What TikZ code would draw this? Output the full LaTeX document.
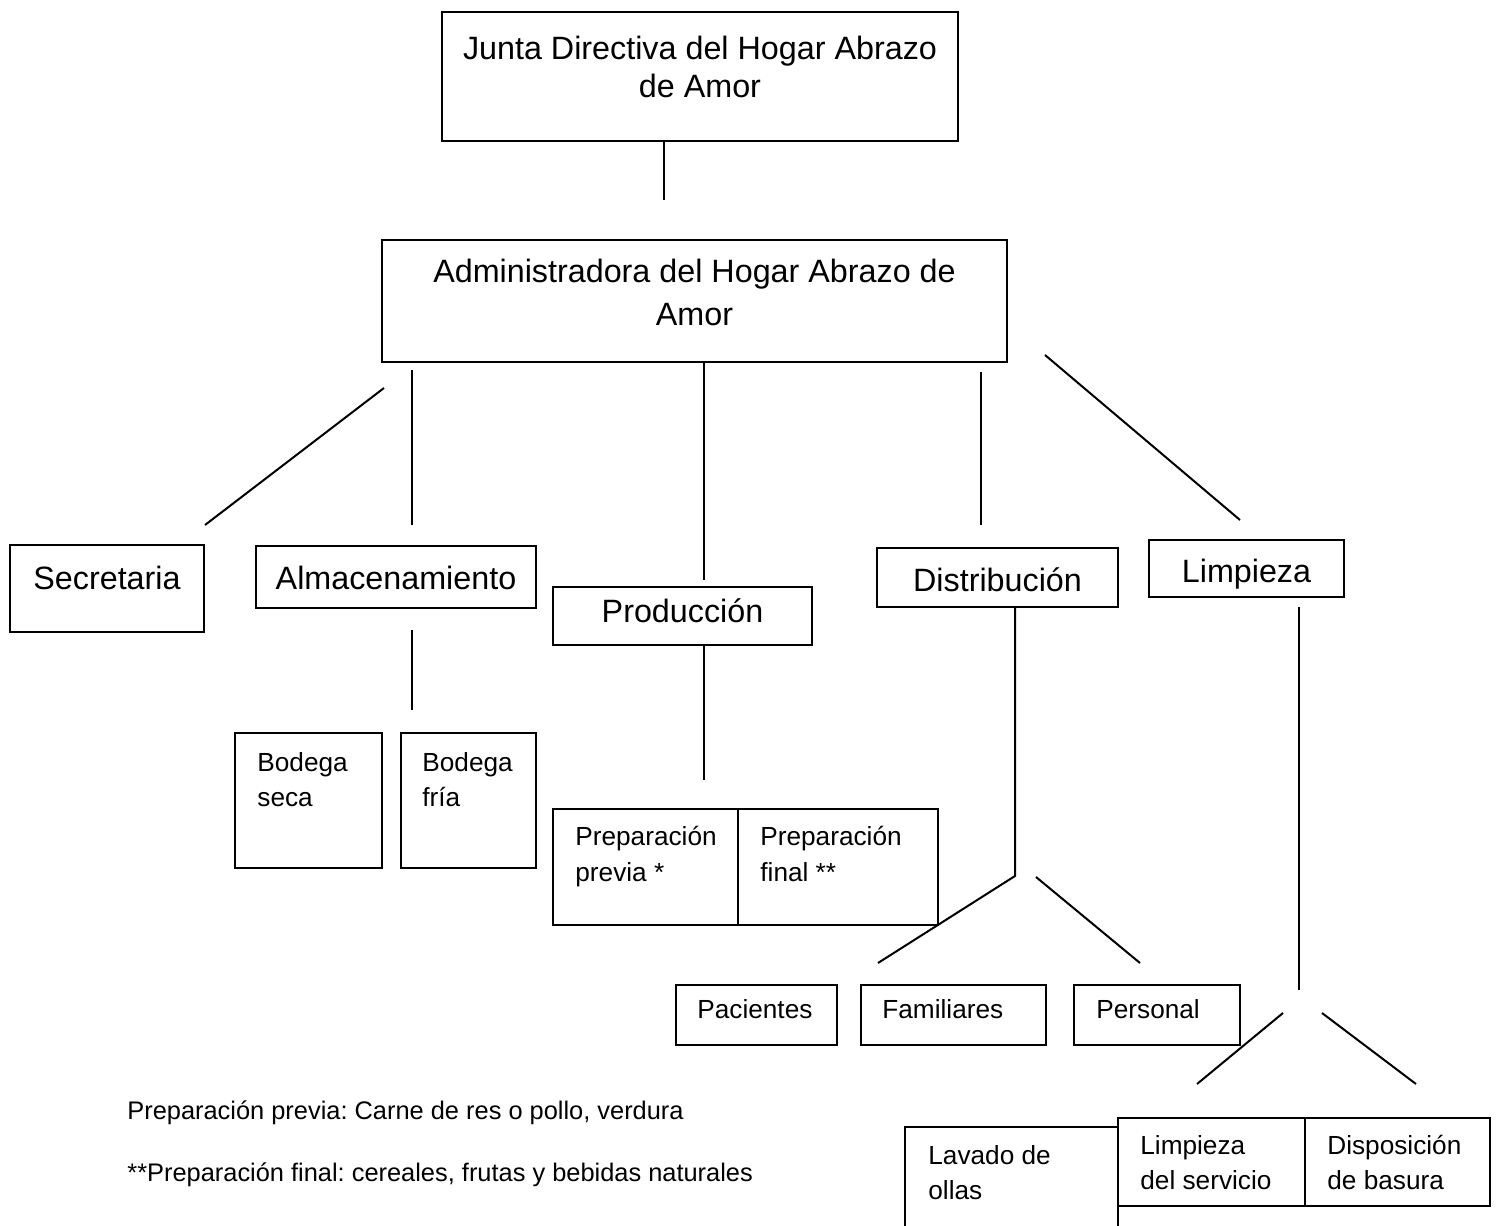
\documentclass[tikz,border=0pt]{standalone}
\usepackage{fontspec}
\setmainfont{Liberation Sans}
\frenchspacing
\begin{document}
\begin{tikzpicture}[x=0.5pt,y=-0.5pt,
  box/.style={draw, line width=1pt, inner sep=0pt, outer sep=0pt, anchor=north west},
  conn/.style={line width=1pt},
  big/.style={font=\fontsize{16.15}{19}\selectfont, inner sep=0pt},
  small/.style={font=\fontsize{13.1}{17.5}\selectfont, inner sep=0pt, align=left, anchor=north west},
  note/.style={font=\fontsize{12.7}{17.5}\selectfont, inner sep=0pt, anchor=base west}]
\newcommand\mybox[5]{\node[box, minimum width={(#4-#2)*0.5pt}, minimum height={(#5-#3)*0.5pt}] (#1) at (#2,#3) {};}
\useasboundingbox (0,0) rectangle (1496,1226);
% boxes
\mybox{junta}{442}{12}{958}{141}
\mybox{admin}{382}{240}{1007}{362}
\mybox{secr}{10}{545}{204}{632}
\mybox{alm}{256}{546}{536}{608}
\mybox{prod}{553}{587}{812}{645}
\mybox{dist}{877}{548}{1118}{607}
\mybox{limp}{1149}{540}{1344}{597}
\mybox{bseca}{235}{733}{382}{868}
\mybox{bfria}{401}{733}{536}{868}
\mybox{ppre}{553}{809}{738}{925}
\mybox{pfin}{738}{809}{938}{925}
\mybox{pac}{676}{985}{837}{1045}
\mybox{fam}{861}{985}{1046}{1045}
\mybox{pers}{1074}{985}{1240}{1045}
\mybox{lserv}{1118}{1118}{1305}{1206}
\mybox{disp}{1305}{1118}{1490}{1206}
% open box Lavado de ollas
\coordinate (lav1) at (905,1226);
\coordinate (lav2) at (905,1127);
\coordinate (lav4) at (1118,1226);
\draw[conn] (lav1) -- (lav2) -- (lserv.west |- lav2);
\draw[conn] (lserv.south west) -- (lav4);
% texts
\node[big, align=center, anchor=north] (tjunta) at (700,26.7) {\rule{0pt}{1em}Junta Directiva del Hogar Abrazo\\de Amor};
\node[big, align=center, anchor=north, font=\fontsize{16.15}{21.5}\selectfont] (tadmin) at (694.5,249.7) {\rule{0pt}{1em}Administradora del Hogar Abrazo de\\Amor};
\node[big, anchor=base] (tsecr) at (107,589) {Secretaria};
\node[big, anchor=base] (talm) at (396,589) {Almacenamiento};
\node[big, anchor=base] (tprod) at (682.5,622) {Producción};
\node[big, anchor=base] (tdist) at (997.5,591) {Distribución};
\node[big, anchor=base] (tlimp) at (1246.5,582) {Limpieza};
\node[small] (tbseca) at (257,744.8) {\rule{0pt}{1em}Bodega\\seca};
\node[small] (tbfria) at (422,744.8) {\rule{0pt}{1em}Bodega\\fría};
\node[small, font=\fontsize{13.1}{18}\selectfont] (tppre) at (575,818.8) {\rule{0pt}{1em}Preparación\\previa *};
\node[small, font=\fontsize{13.1}{18}\selectfont] (tpfin) at (760,818.8) {\rule{0pt}{1em}Preparación\\final **};
\node[small, anchor=base west] (tpac) at (697,1018) {Pacientes};
\node[small, anchor=base west] (tfam) at (882,1018) {Familiares};
\node[small, anchor=base west] (tpers) at (1096,1018) {Personal};
\node[small] (tlav) at (928,1137.8) {\rule{0pt}{1em}Lavado de\\ollas};
\node[small] (tlserv) at (1140,1127.8) {\rule{0pt}{1em}Limpieza\\del servicio};
\node[small] (tdisp) at (1327,1127.8) {\rule{0pt}{1em}Disposición\\de basura};
\node[note] (note1) at (127,1119) {Preparación previa: Carne de res o pollo, verdura};
\node[note] (note2) at (127,1181) {**Preparación final: cereales, frutas y bebidas naturales};
% connector ends
\coordinate (c1) at (664,200);
\coordinate (c2a) at (384,388); \coordinate (c2b) at (205,525);
\coordinate (c3a) at (412,370); \coordinate (c3b) at (412,525);
\coordinate (c4b) at (704,580);
\coordinate (c5a) at (981,372); \coordinate (c5b) at (981,525);
\coordinate (c6a) at (1045,355); \coordinate (c6b) at (1240,520);
\coordinate (c7a) at (412,630); \coordinate (c7b) at (412,710);
\coordinate (c8b) at (704,780);
\coordinate (c9m) at (1015,876); \coordinate (c9b) at (878,963);
\coordinate (c10a) at (1036,877); \coordinate (c10b) at (1140,963);
\coordinate (c11a) at (1299,607); \coordinate (c11b) at (1299,990);
\coordinate (c12a) at (1283,1013); \coordinate (c12b) at (1197,1084);
\coordinate (c13a) at (1322,1013); \coordinate (c13b) at (1416,1084);
% connectors
\draw[conn] (junta.south west -| c1) -- (c1);
\draw[conn] (c2a) -- (c2b);
\draw[conn] (c3a) -- (c3b);
\draw[conn] (admin.south west -| c4b) -- (c4b);
\draw[conn] (c5a) -- (c5b);
\draw[conn] (c6a) -- (c6b);
\draw[conn] (c7a) -- (c7b);
\draw[conn] (prod.south west -| c8b) -- (c8b);
\draw[conn] (dist.south west -| c9m) -- (c9m) -- (c9b);
\draw[conn] (c10a) -- (c10b);
\draw[conn] (c11a) -- (c11b);
\draw[conn] (c12a) -- (c12b);
\draw[conn] (c13a) -- (c13b);
\end{tikzpicture}
\end{document}
